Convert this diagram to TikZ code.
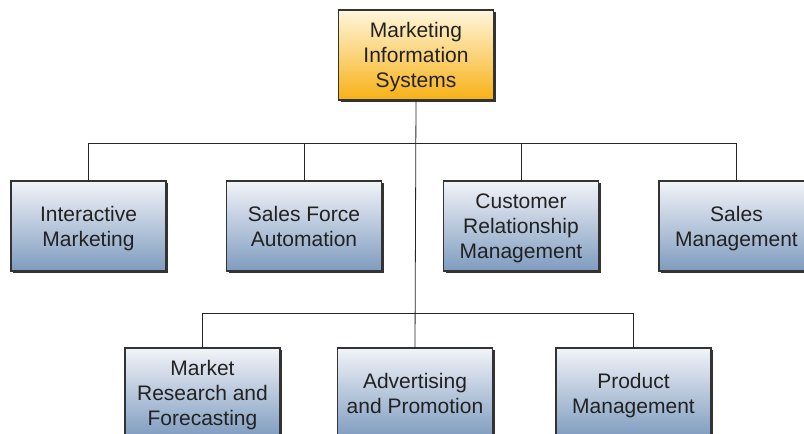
\documentclass[tikz,border=0pt]{standalone}
\usepackage{fontspec}
\setmainfont{Liberation Sans}
\usepackage{xcolor}
\usetikzlibrary{positioning,shadows,calc}
\definecolor{BoxTop}{HTML}{F2F4F8}
\definecolor{BoxBot}{HTML}{7E9BBF}
\definecolor{HeadTop}{HTML}{FFF6DC}
\definecolor{HeadBot}{HTML}{F7B115}
\definecolor{TextDark}{HTML}{222222}
\definecolor{LineDark}{HTML}{333333}

\begin{document}
\begin{tikzpicture}[x=1pt,y=1pt,
          every node/.style={font=\fontsize{21}{25}\selectfont},
          unit/.style={draw=LineDark,line width=1.1pt,top color=BoxTop,bottom color=BoxBot,
            minimum width=155pt,minimum height=90pt,inner sep=2pt,outer sep=0pt,
            text depth=0pt,align=center,text=TextDark,
            drop shadow={shadow xshift=2.2pt,shadow yshift=-2.2pt,fill=black!80,opacity=1}},
          head/.style={unit,top color=HeadTop,bottom color=HeadBot},
          ln/.style={draw=black!85,line width=0.8pt}]
        \useasboundingbox (0,0) rectangle (804,-434);
        % top of the chart
        \node[head] (mis) at (416,-55) {Marketing\\Information\\Systems};
        % first row
        \node[unit] (im)  at (88.5,-226)  {Interactive\\Marketing};
        \node[unit] (sfa) at (304,-226)   {Sales Force\\Automation};
        \node[unit] (crm) at (521,-226)   {Customer\\Relationship\\Management};
        \node[unit] (sm)  at (736.5,-226) {Sales\\Management};
        % second row
        \node[unit] (mrf) at (202.5,-393) {Market\\Research and\\Forecasting};
        \node[unit] (adv) at (415,-393)   {Advertising\\and Promotion};
        \node[unit] (pm)  at (633.5,-393) {Product\\Management};
        % connectors
        \coordinate (bus1) at (0,-143);
        \coordinate (bus2) at (0,-313);
        \draw[ln] (mis.south) -- (adv.north);
        \draw[ln] (im.north) |- (bus1 -| sm.north) -- (sm.north);
        \draw[ln] (sfa.north) -- (sfa.north |- bus1);
        \draw[ln] (crm.north) -- (crm.north |- bus1);
        \draw[ln] (mrf.north) |- (bus2 -| pm.north) -- (pm.north);
      \end{tikzpicture}
\end{document}
